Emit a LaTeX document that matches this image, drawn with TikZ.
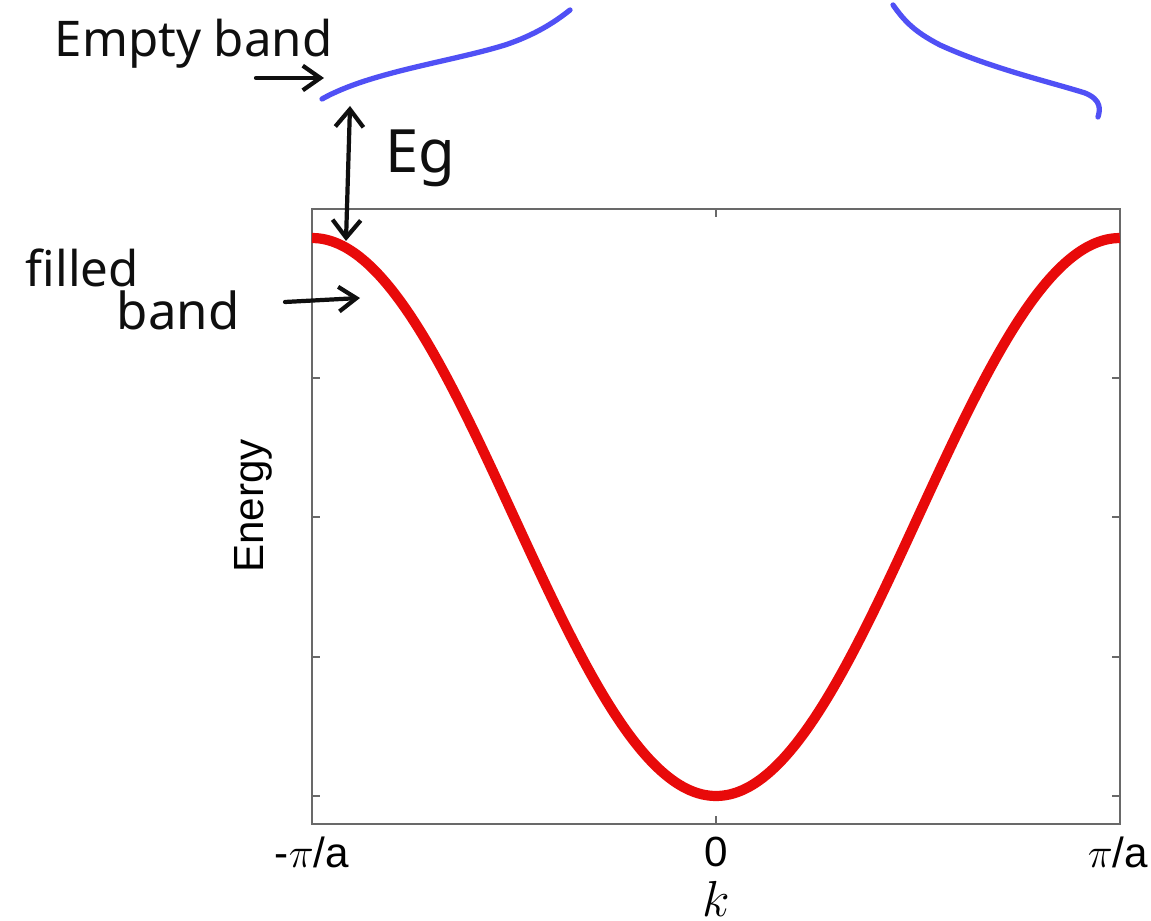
\documentclass[tikz,border=0pt]{standalone}
\usepackage{fontspec}
\usepackage{xcolor}
\usepackage{tikz}
\usetikzlibrary{arrows.meta, positioning, calc}
\setsansfont{Liberation Sans}
\newfontfamily\handfont{Noto Sans}
\definecolor{myred}{RGB}{232,10,10}
\definecolor{myblue}{RGB}{80,80,245}
\definecolor{mygray}{RGB}{105,105,105}
\definecolor{mydark}{RGB}{15,15,15}
\tikzset{
  frame/.style={draw=mygray, line width=0.75pt},
  tick/.style={draw=mygray, line width=0.75pt},
  band/.style={color=myred, line width=2.9pt},
  emptyband/.style={color=myblue, line width=1.5pt, line cap=round},
  hand/.style={font=\handfont\fontsize{14}{16}\selectfont, text=mydark, inner sep=0pt},
  axlabel/.style={font=\sffamily\fontsize{12}{14}\selectfont, inner sep=0pt},
  note/.style={-{Straight Barb[length=5pt, width=7pt]}, line width=1.2pt, color=mydark, line cap=round},
  gap/.style={{Straight Barb[length=5pt, width=8pt]}-{Straight Barb[length=5pt, width=8pt]}, line width=1.2pt, color=mydark, line cap=round}
}

\begin{document}
\begin{tikzpicture}[x=0.1mm, y=-0.1mm]
  \useasboundingbox (0,0) rectangle (1151,921);

  % Plot frame and ticks
  \draw[frame] (312,209) rectangle (1120,824);
  \foreach \ty in {378,517,657,796} {
    \draw[tick] (312,\ty) -- ++(8,0);
    \draw[tick] (1120,\ty) -- ++(-8,0);
  }
  \draw[tick] (716,824) -- ++(0,-8);
  \draw[tick] (716,209) -- ++(0,8);

  % Filled band
  \draw[band] plot[domain=-1:1, samples=121, smooth]
    ({716+404*\x}, {517+279*cos(180*\x)});

  % Empty band
  \draw[emptyband] (322,99) .. controls (370,72) and (450,62) .. (505,45)
    .. controls (535,35) and (555,22) .. (570,10);
  \draw[emptyband] (893,5) .. controls (905,22) and (915,32) .. (940,45)
    .. controls (990,68) and (1050,82) .. (1085,93)
    .. controls (1102,100) and (1100,110) .. (1098,117);

  % Axis labels
  \node[axlabel] (kmin) at (312,852) {-$\pi$/a};
  \node[axlabel] (kzero) at (716,852) {0};
  \node[axlabel] (kmax) at (1118,852) {$\pi$/a};
  \node[font=\fontsize{14}{16}\selectfont, inner sep=0pt, anchor=base] (klab) at (716,916) {$k$};
  \node[axlabel, rotate=90] (elab) at (253,506) {Energy};

  % Notes
  \node[hand, anchor=base west] (emptytxt) at (54,57) {Empty band};
  \coordinate (emptytail) at (256,78);
  \coordinate (emptytip) at (324,78);
  \draw[note] (emptytail) -- (emptytip);

  \coordinate (cbottom) at (350,106);
  \coordinate (vtop) at (346,241);
  \draw[gap] (cbottom) -- (vtop);
  \node[hand, font=\handfont\fontsize{17}{18}\selectfont, anchor=base west] (egtxt) at (385,173) {Eg};

  \node[hand, anchor=base west] (filledtxt) at (25,287) {filled};
  \node[hand, font=\handfont\fontsize{14.5}{16}\selectfont, anchor=base west] (bandtxt) at (116,330) {band};
  \coordinate (filledtail) at (285,302);
  \coordinate (filledtip) at (360,298);
  \draw[note] (filledtail) -- (filledtip);
\end{tikzpicture}
\end{document}
